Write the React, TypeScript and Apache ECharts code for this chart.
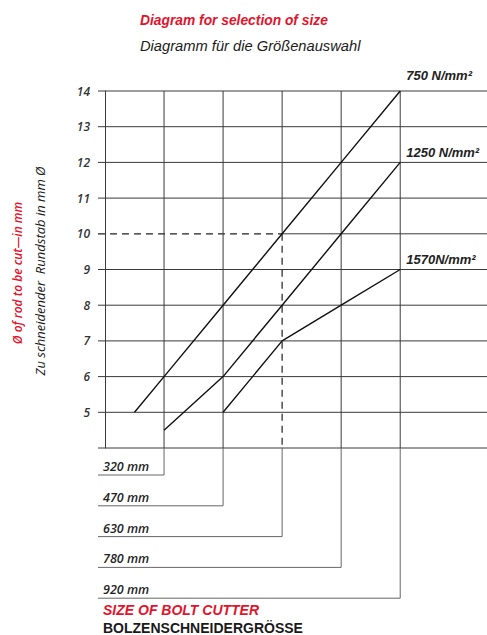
import React, { useEffect, useRef } from "react";
import * as echarts from "echarts";

// ---- data ----
const sizeLabels = ["320 mm", "470 mm", "630 mm", "780 mm", "920 mm"];
const sizeX = [1, 2, 3, 4, 5];
const yTicks = [4, 5, 6, 7, 8, 9, 10, 11, 12, 13, 14];
const guideX = 3;
const guideY = 10;

const s750X = [0.5, 1, 2, 3, 4, 5];
const s750Y = [5, 6, 8, 10, 12, 14];
const s1250X = [1, 2, 3, 4, 5];
const s1250Y = [4.5, 6, 8, 10, 12];
const s1570X = [2, 3, 4, 5];
const s1570Y = [5, 7, 8, 9];

const seriesNames = ["750 N/mm²", "1250 N/mm²", "1570N/mm²"];

const yMin = 4;
const yMax = 14;
const xMin = 0;
const xMax = 6.47;

const pair = (xs: number[], ys: number[]) => xs.map((x, i) => [x, ys[i]]);

export default function App() {
  const ref = useRef<HTMLDivElement>(null);
  useEffect(() => {
    if (!ref.current) return;
    const chart = echarts.init(ref.current, null, { renderer: "svg" });
    const gridColor = "#3a3a3a";
    const bracketColor = "#666";
    const lineSeries = (name: string, data: number[][], offY: number) => ({
      type: "line",
      name,
      data,
      symbol: "none",
      silent: true,
      lineStyle: { color: "#111", width: 1.4 },
      endLabel: {
        show: true,
        formatter: name,
        distance: 6,
        offset: [0, offY],
        color: "#222",
        fontFamily: "Liberation Sans",
        fontStyle: "italic",
        fontWeight: "bold",
        fontSize: 13,
      },
      z: 5,
    });
    chart.setOption({
      animation: false,
      backgroundColor: "#fff",
      grid: { left: 105, top: 91, right: 0, bottom: 187, containLabel: false },
      xAxis: {
        type: "value",
        min: xMin,
        max: xMax,
        show: false,
      },
      yAxis: {
        type: "value",
        min: yMin,
        max: yMax,
        interval: 1,
        axisLine: { show: true, lineStyle: { color: gridColor, width: 1 } },
        axisTick: { show: false },
        splitLine: { show: false },
        axisLabel: {
          margin: 15,
          formatter: (v: number) => (v === yMin ? "" : String(v)),
          color: "#333",
          fontFamily: "Open Sans",
          fontStyle: "italic",
          fontWeight: 600,
          fontSize: 12,
        },
      },
      graphic: [
        {
          type: "text",
          left: 140,
          top: 13,
          style: {
            text: "Diagram for selection of size",
            fill: "#e3132b",
            font: 'italic bold 13.8px "Liberation Sans"',
          },
        },
        {
          type: "text",
          left: 140,
          top: 38,
          style: {
            text: "Diagramm für die Größenauswahl",
            fill: "#1a1a1a",
            font: 'italic 14.7px "Liberation Sans"',
          },
        },
        {
          type: "text",
          x: 17,
          y: 273,
          rotation: Math.PI / 2,
          style: {
            text: "Ø of rod to be cut—in mm",
            fill: "#e3132b",
            font: 'italic 600 12px "Open Sans"',
            align: "center",
            verticalAlign: "middle",
          },
        },
        {
          type: "text",
          x: 40,
          y: 271,
          rotation: Math.PI / 2,
          style: {
            text: "Zu schneidender  Rundstab in mm Ø",
            fill: "#1a1a1a",
            font: 'italic 13px "Open Sans"',
            align: "center",
            verticalAlign: "middle",
          },
        },
        {
          type: "text",
          left: 103,
          top: 603,
          style: {
            text: "SIZE OF BOLT CUTTER",
            fill: "#e3132b",
            font: 'italic bold 14px "Liberation Sans"',
          },
        },
        {
          type: "text",
          left: 103,
          top: 621,
          style: {
            text: "BOLZENSCHNEIDERGRÖSSE",
            fill: "#1a1a1a",
            font: 'bold 14px "Liberation Sans"',
          },
        },
      ],
      series: [
        {
          type: "custom",
          name: "hgrid",
          silent: true,
          data: yTicks.map((v) => [v]),
          renderItem: (params: any, api: any) => {
            const v = api.value(0);
            const p0 = api.coord([xMin, v]);
            const p1 = api.coord([xMax, v]);
            const left = p0[0] - 7;
            if (v === guideY) {
              const pg = api.coord([guideX, v]);
              return {
                type: "group",
                children: [
                  {
                    type: "line",
                    shape: { x1: left, y1: p0[1], x2: pg[0], y2: pg[1] },
                    style: { stroke: "#222", lineWidth: 1.2, lineDash: [7, 5] },
                  },
                  {
                    type: "line",
                    shape: { x1: pg[0], y1: pg[1], x2: p1[0], y2: p1[1] },
                    style: { stroke: gridColor, lineWidth: 1 },
                  },
                ],
              };
            }
            return {
              type: "line",
              shape: { x1: left, y1: p0[1], x2: p1[0], y2: p1[1] },
              style: { stroke: gridColor, lineWidth: 1 },
            };
          },
          z: 1,
        },
        {
          type: "custom",
          name: "sizes",
          silent: true,
          clip: false,
          data: sizeX.map((x, i) => [x, i]),
          renderItem: (params: any, api: any) => {
            const x = api.value(0);
            const i = api.value(1);
            const top = api.coord([x, yMax]);
            const bot = api.coord([x, yMin]);
            const by = bot[1] + 27 + i * 30.8;
            const left = api.coord([xMin, yMin])[0] - 7;
            const children: any[] = [];
            if (x === guideX) {
              const pg = api.coord([x, guideY]);
              children.push(
                {
                  type: "line",
                  shape: { x1: top[0], y1: top[1], x2: pg[0], y2: pg[1] },
                  style: { stroke: gridColor, lineWidth: 1 },
                },
                {
                  type: "line",
                  shape: { x1: pg[0], y1: pg[1], x2: bot[0], y2: bot[1] },
                  style: { stroke: "#222", lineWidth: 1.2, lineDash: [7, 5] },
                },
                {
                  type: "line",
                  shape: { x1: bot[0], y1: bot[1], x2: bot[0], y2: by },
                  style: { stroke: bracketColor, lineWidth: 1 },
                }
              );
            } else {
              children.push(
                {
                  type: "line",
                  shape: { x1: top[0], y1: top[1], x2: bot[0], y2: bot[1] },
                  style: { stroke: gridColor, lineWidth: 1 },
                },
                {
                  type: "line",
                  shape: { x1: bot[0], y1: bot[1], x2: bot[0], y2: by },
                  style: { stroke: bracketColor, lineWidth: 1 },
                }
              );
            }
            children.push(
              {
                type: "line",
                shape: { x1: bot[0], y1: by, x2: left, y2: by },
                style: { stroke: bracketColor, lineWidth: 1 },
              },
              {
                type: "text",
                x: left + 5,
                y: by - 2,
                style: {
                  text: sizeLabels[i],
                  fill: "#222",
                  font: 'italic 600 12.5px "Open Sans"',
                  align: "left",
                  verticalAlign: "bottom",
                },
              }
            );
            return { type: "group", children };
          },
          z: 2,
        },
        lineSeries(seriesNames[0], pair(s750X, s750Y), -16),
        lineSeries(seriesNames[1], pair(s1250X, s1250Y), -10),
        lineSeries(seriesNames[2], pair(s1570X, s1570Y), -10),
      ],
    });
    return () => chart.dispose();
  }, []);
  return (
    <div
      ref={ref}
      style={{ position: "absolute", left: 0, top: 0, width: 487, height: 635 }}
    />
  );
}
